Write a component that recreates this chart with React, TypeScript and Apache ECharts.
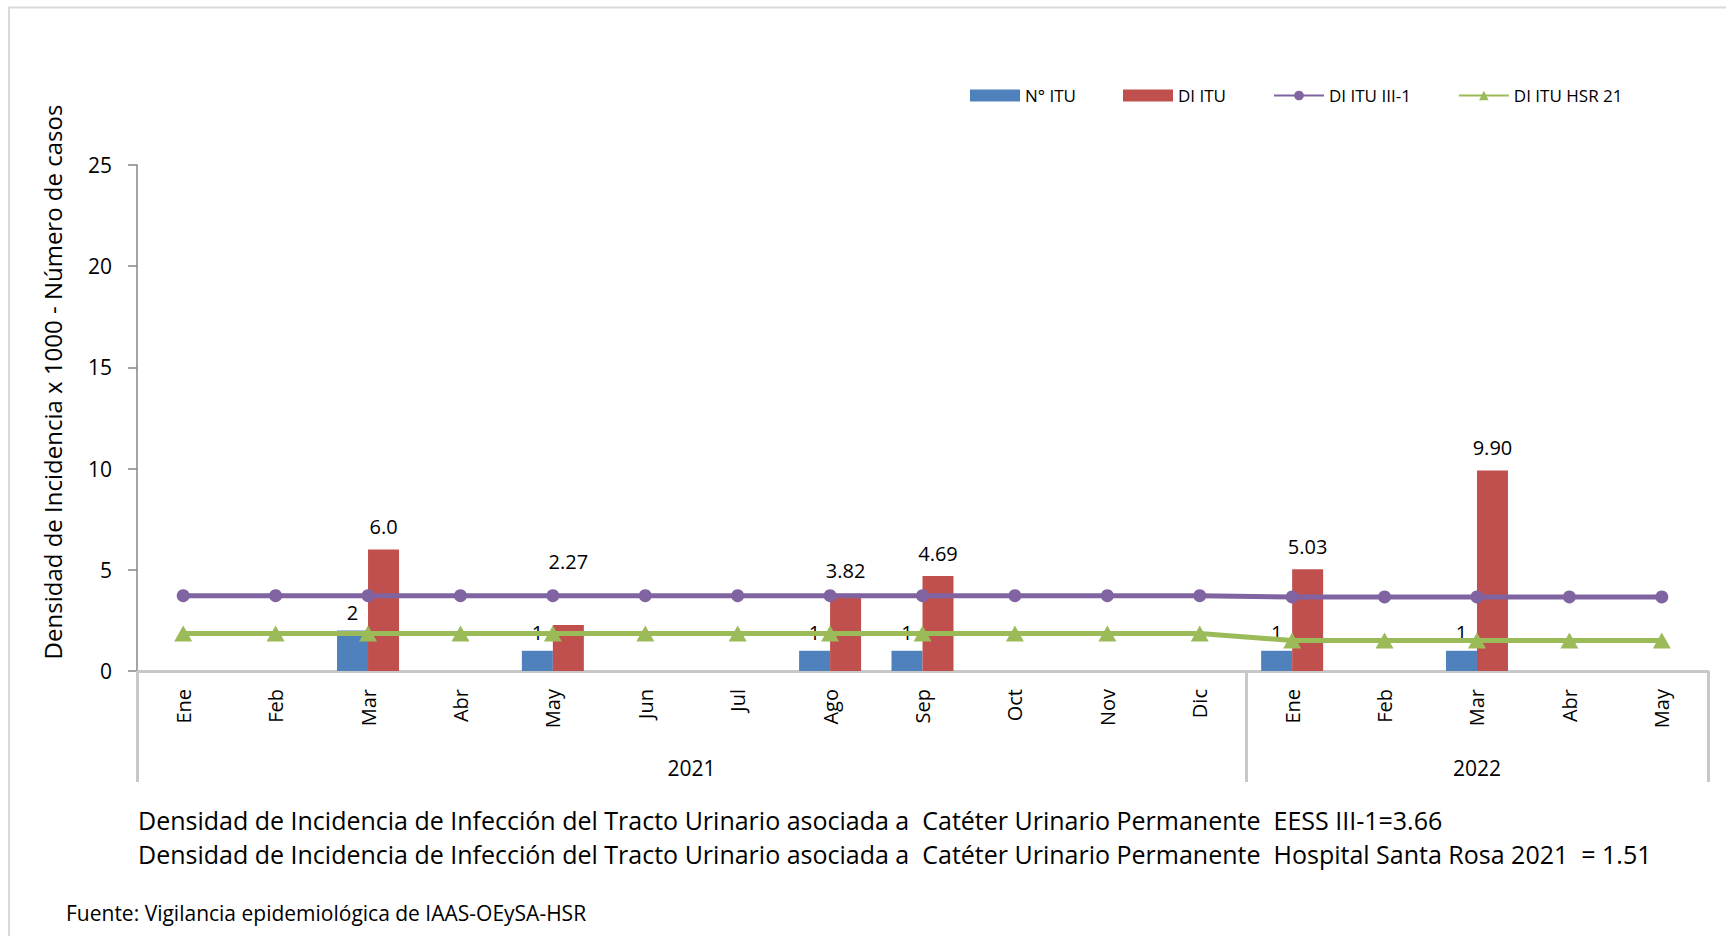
import React, { useEffect, useRef } from 'react';
import * as echarts from 'echarts';

const MONTHS = ['Ene', 'Feb', 'Mar', 'Abr', 'May', 'Jun', 'Jul', 'Ago', 'Sep', 'Oct', 'Nov', 'Dic', 'Ene', 'Feb', 'Mar', 'Abr', 'May'];
const YEARS = ['2021', '2022'];
const YEAR_SPANS = [[0, 11], [12, 16]];
const N_ITU = [null, null, 2, null, 1, null, null, 1, 1, null, null, null, 1, null, 1, null, null];
const DI_ITU = [null, null, 6.0, null, 2.27, null, null, 3.82, 4.69, null, null, null, 5.03, null, 9.9, null, null];
const DI_ITU_LABELS = ['', '', '6.0', '', '2.27', '', '', '3.82', '4.69', '', '', '', '5.03', '', '9.90', '', ''];
const DI_III1 = [3.72, 3.72, 3.72, 3.72, 3.72, 3.72, 3.72, 3.72, 3.72, 3.72, 3.72, 3.72, 3.66, 3.66, 3.66, 3.66, 3.66];
const DI_HSR = [1.85, 1.85, 1.85, 1.85, 1.85, 1.85, 1.85, 1.85, 1.85, 1.85, 1.85, 1.85, 1.51, 1.51, 1.51, 1.51, 1.51];
const Y_MIN = 0;
const Y_MAX = 25;
const Y_INTERVAL = 5;
const SERIES_NAMES = ['N° ITU', 'DI ITU', 'DI ITU III-1', 'DI ITU HSR 21'];
const Y_TITLE = 'Densidad de Incidencia x 1000 - Número de casos';
const NOTES = [
  'Densidad de Incidencia de Infección del Tracto Urinario asociada a  Catéter Urinario Permanente  EESS III-1=3.66',
  'Densidad de Incidencia de Infección del Tracto Urinario asociada a  Catéter Urinario Permanente  Hospital Santa Rosa 2021  = 1.51',
];
const SOURCE = 'Fuente: Vigilancia epidemiológica de IAAS-OEySA-HSR';

const FONT = '"Open Sans", "Noto Sans", sans-serif';

export default function App() {
  const ref = useRef<HTMLDivElement>(null);
  useEffect(() => {
    const chart = echarts.init(ref.current as HTMLDivElement, null, { renderer: 'svg' });
    const option: any = {
      animation: false,
      backgroundColor: '#ffffff',
      textStyle: { fontFamily: FONT },
      grid: { left: 137, right: 18, top: 165, bottom: 265, containLabel: false },
      legend: {
        left: 970,
        top: 87,
        padding: 0,
        itemWidth: 50,
        itemHeight: 12,
        itemGap: 47,
        textStyle: { fontSize: 17, fontFamily: FONT, color: '#000' },
        data: [
          { name: SERIES_NAMES[0], icon: 'rect' },
          { name: SERIES_NAMES[1], icon: 'rect' },
          SERIES_NAMES[2],
          SERIES_NAMES[3],
        ],
      },
      xAxis: {
        type: 'category',
        data: MONTHS,
        boundaryGap: true,
        axisLine: { show: true, lineStyle: { color: '#c8c8c8', width: 3 } },
        axisTick: {
          show: true,
          length: 111,
          interval: (i: number) => i === YEAR_SPANS[0][0] || i === YEAR_SPANS[1][0],
          lineStyle: { color: '#c8c8c8', width: 3 },
        },
        axisLabel: {
          interval: 0,
          rotate: 90,
          margin: 18,
          fontSize: 20,
          fontFamily: FONT,
          color: '#000',
        },
        splitLine: { show: false },
      },
      yAxis: {
        type: 'value',
        min: Y_MIN,
        max: Y_MAX,
        interval: Y_INTERVAL,
        axisLine: { show: true, lineStyle: { color: '#868686', width: 1.5 } },
        axisTick: { show: true, length: 9, lineStyle: { color: '#868686', width: 1.5 } },
        axisLabel: { margin: 25, fontSize: 21, fontFamily: FONT, color: '#000' },
        splitLine: { show: false },
      },
      series: [
        {
          name: SERIES_NAMES[0],
          type: 'bar',
          data: N_ITU,
          barWidth: 31,
          barGap: '0%',
          itemStyle: { color: '#4F81BD' },
          label: { show: true, position: 'top', distance: 8, fontSize: 20, fontFamily: FONT, color: '#000' },
          z: 2,
        },
        {
          name: SERIES_NAMES[1],
          type: 'bar',
          data: DI_ITU.map((v, i) => (i === 4 && v != null ? { value: v, label: { offset: [0, -41] } } : v)),
          barWidth: 31,
          barGap: '0%',
          itemStyle: { color: '#C0504D' },
          label: {
            show: true,
            position: 'top',
            distance: 13,
            fontSize: 20,
            fontFamily: FONT,
            color: '#000',
            formatter: (p: any) => DI_ITU_LABELS[p.dataIndex],
          },
          z: 2,
        },
        {
          name: SERIES_NAMES[2],
          type: 'line',
          data: DI_III1,
          symbol: 'circle',
          symbolSize: 13,
          itemStyle: { color: '#8064A2' },
          lineStyle: { color: '#8064A2', width: 5 },
          z: 3,
        },
        {
          name: SERIES_NAMES[3],
          type: 'line',
          data: DI_HSR,
          symbol: 'triangle',
          symbolSize: [18, 16],
          itemStyle: { color: '#9BBB59' },
          lineStyle: { color: '#9BBB59', width: 5 },
          z: 4,
        },
      ],
    };
    chart.setOption(option);

    const yearLabels = YEARS.map((yr, k) => {
      const x0 = chart.convertToPixel({ xAxisIndex: 0 }, YEAR_SPANS[k][0]) as number;
      const x1 = chart.convertToPixel({ xAxisIndex: 0 }, YEAR_SPANS[k][1]) as number;
      return {
        type: 'text',
        x: (x0 + x1) / 2,
        y: 768,
        silent: true,
        style: { text: yr, fontSize: 21, fontFamily: FONT, fill: '#000', textAlign: 'center', textVerticalAlign: 'middle' },
      };
    });

    chart.setOption({
      graphic: [
        { type: 'line', silent: true, shape: { x1: 8, y1: 7.5, x2: 1726, y2: 7.5 }, style: { stroke: '#d9d9d9', lineWidth: 2 } },
        { type: 'line', silent: true, shape: { x1: 9, y1: 7.5, x2: 9, y2: 936 }, style: { stroke: '#d9d9d9', lineWidth: 2 } },
        {
          type: 'text',
          x: 52,
          y: 382,
          rotation: Math.PI / 2,
          silent: true,
          style: { text: Y_TITLE, fontSize: 24, fontFamily: FONT, fill: '#000', textAlign: 'center', textVerticalAlign: 'middle' },
        },
        {
          type: 'text',
          x: 138,
          y: 820,
          silent: true,
          style: { text: NOTES[0], fontSize: 25, fontFamily: FONT, fill: '#000', textAlign: 'left', textVerticalAlign: 'middle' },
        },
        {
          type: 'text',
          x: 138,
          y: 854,
          silent: true,
          style: { text: NOTES[1], fontSize: 25, fontFamily: FONT, fill: '#000', textAlign: 'left', textVerticalAlign: 'middle' },
        },
        {
          type: 'text',
          x: 66,
          y: 913,
          silent: true,
          style: { text: SOURCE, fontSize: 21, fontFamily: FONT, fill: '#000', textAlign: 'left', textVerticalAlign: 'middle' },
        },
        ...yearLabels,
      ],
    });
    return () => chart.dispose();
  }, []);
  return (
    <div
      ref={ref}
      style={{ position: 'fixed', left: 0, top: 0, width: 1726, height: 936, background: '#ffffff' }}
    />
  );
}
